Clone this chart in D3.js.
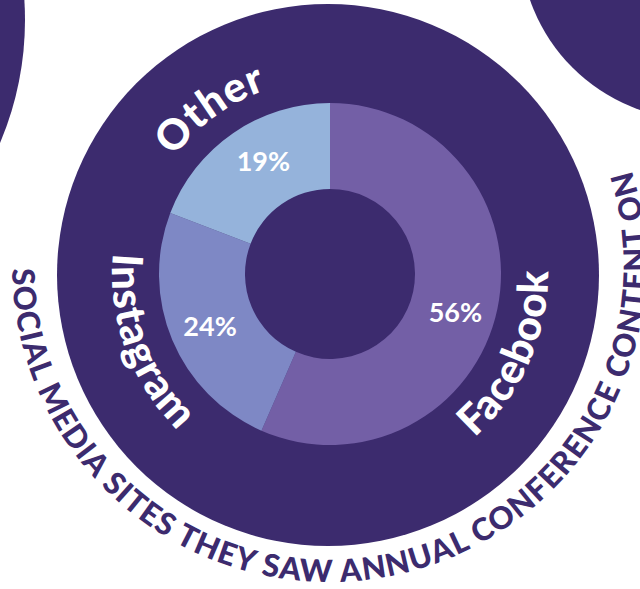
<!DOCTYPE html>
<html><head><meta charset="utf-8">
<script src="https://cdn.jsdelivr.net/npm/d3@7"></script>
<style>html,body{margin:0;padding:0;background:#fff;} svg{display:block;}</style>
</head><body>
<svg id="chart" width="640" height="589"></svg>
<script>
// ---- data ----
const categories = ["Facebook", "Instagram", "Other"];
const values = [56, 24, 19];
const valueLabels = ["56%", "24%", "19%"];
const title = "SOCIAL MEDIA SITES THEY SAW ANNUAL CONFERENCE CONTENT ON";

// ---- layout / style ----
const dark = "#3c2b6e";
const color = d3.scaleOrdinal().domain(categories).range(["#735fa6", "#7e88c5", "#95b3db"]);
const FONT = "Lato, 'Open Sans', sans-serif";
const svg = d3.select("#chart");
const rad = deg => deg * Math.PI / 180;

// decorative background circles
svg.append("circle").attr("cx", -290).attr("cy", 20).attr("r", 315).attr("fill", dark);
svg.append("circle").attr("cx", 699).attr("cy", -59).attr("r", 179).attr("fill", dark);
svg.append("circle").attr("cx", 328).attr("cy", 275).attr("r", 271).attr("fill", dark);

// donut
const cx = 330, cy = 274, rIn = 85, rOut = 171;
const pie = d3.pie().sort(null).value(d => d);
const arcs = pie(values);
const arc = d3.arc().innerRadius(rIn).outerRadius(rOut);
const g = svg.append("g").attr("transform", `translate(${cx},${cy})`);
g.selectAll("path.slice").data(arcs).join("path")
  .attr("class", "slice")
  .attr("d", arc)
  .attr("fill", (d, i) => color(categories[i]));

// percentage labels
const pctShiftDeg = [5, -1, 4];
const pctR = 131;
const pctSize = 27;
g.selectAll("text.pct").data(arcs).join("text")
  .attr("class", "pct")
  .each(function (d, i) {
    const a = (d.startAngle + d.endAngle) / 2 + rad(pctShiftDeg[i]);
    d3.select(this)
      .attr("x", pctR * Math.sin(a))
      .attr("y", -pctR * Math.cos(a) + pctSize * 0.36);
  })
  .attr("text-anchor", "middle")
  .attr("font-family", FONT).attr("font-weight", 700).attr("font-size", pctSize)
  .attr("fill", "#fff")
  .text((d, i) => valueLabels[i]);

// curved category labels
const labShiftDeg = [12, 2.5, -1.5];
const defs = svg.append("defs");
arcs.forEach((d, i) => {
  const mid = (d.startAngle + d.endAngle) / 2 + rad(labShiftDeg[i]);
  const outward = Math.cos(mid) > 0;
  const p = d3.path();
  const m = mid - Math.PI / 2;
  if (outward) {
    p.arc(cx, cy, 195, m - Math.PI / 2, m + Math.PI / 2, false);
  } else {
    p.arc(cx, cy, 218, m + Math.PI / 2, m - Math.PI / 2, true);
  }
  defs.append("path").attr("id", "lab" + i).attr("d", p.toString());
  svg.append("text")
    .attr("font-family", FONT).attr("font-weight", 900).attr("font-size", 42)
    .attr("letter-spacing", 1)
    .attr("fill", "#fff")
    .append("textPath")
    .attr("href", "#lab" + i)
    .attr("startOffset", "50%")
    .attr("text-anchor", "middle")
    .text(categories[i]);
});

// curved title around the bottom
const tcx = 329, tcy = 265, tr = 317, tStart = 269.3, tEnd = 72.5;
const tp = d3.path();
tp.arc(tcx, tcy, tr, rad(tStart - 90), rad(tEnd - 90), true);
defs.append("path").attr("id", "titlePath").attr("d", tp.toString());
const tText = svg.append("text")
  .attr("font-family", FONT).attr("font-weight", 900).attr("font-size", 31)
  .attr("fill", dark);
tText.append("textPath").attr("href", "#titlePath").attr("startOffset", 0).text(title);
const pathLen = tr * rad(tStart - tEnd);
const natural = tText.node().getComputedTextLength();
tText.attr("letter-spacing", Math.max(0, (pathLen - natural) / title.length));
</script>
</body></html>
